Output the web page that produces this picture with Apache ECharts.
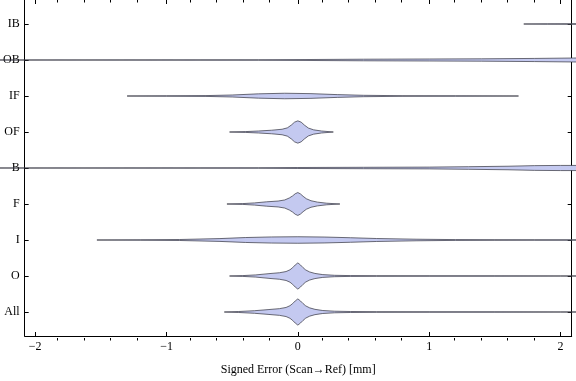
<!DOCTYPE html>
<html><head><meta charset="utf-8">
<script src="https://cdn.jsdelivr.net/npm/echarts@6/dist/echarts.min.js"></script>
<style>html,body{margin:0;padding:0;background:#fff}#c{width:576px;height:381px}</style>
</head><body><div id="c"></div>
<script>
// Categories, bottom to top
const categories = ['All', 'O', 'I', 'F', 'B', 'OF', 'IF', 'OB', 'IB'];
const xMajor = [-2, -1, 0, 1, 2];
const xMinor = [-1.8,-1.6,-1.4,-1.2,-0.8,-0.6,-0.4,-0.2,0.2,0.4,0.6,0.8,1.2,1.4,1.6,1.8];

// Estimated violin profiles: signed error (mm) and relative density
const allX = [-0.56,-0.45,-0.33,-0.22,-0.14,-0.09,-0.06,-0.04,-0.02,0,0.02,0.04,0.06,0.09,0.13,0.19,0.28,0.4,0.6,1.0,1.5,2.0,2.3];
const allD = [0,0.5,1.3,2.5,3.4,4.6,6.4,8.5,11.2,13.3,11.2,8.5,6.2,4.2,2.7,1.5,0.8,0.5,0.3,0.2,0.15,0.1,0.1];
const oX = [-0.52,-0.42,-0.32,-0.22,-0.14,-0.09,-0.06,-0.04,-0.02,0,0.02,0.04,0.06,0.09,0.13,0.19,0.28,0.4,0.6,1.0,1.5,2.0,2.3];
const oD = [0,0.4,1.1,2.4,3.3,4.5,6.3,8.4,11.2,13.3,11.2,8.4,6.1,4.1,2.6,1.4,0.7,0.4,0.3,0.2,0.15,0.1,0.1];
const iX = [-1.53,-1.2,-0.9,-0.6,-0.4,-0.2,0,0.2,0.4,0.6,0.9,1.2,1.5,1.8,2.3];
const iD = [0,0.2,0.5,1.4,2.5,3.1,3.3,3.0,2.3,1.5,0.8,0.4,0.3,0.2,0.2];
const fX = [-0.54,-0.42,-0.33,-0.24,-0.15,-0.1,-0.065,-0.04,-0.02,0,0.02,0.04,0.065,0.1,0.15,0.22,0.32];
const fD = [0,0.4,1.1,2.2,3.0,4.1,6.1,8.2,10.4,11.6,10.2,7.8,5.3,3.3,1.9,0.8,0];
const bX = [-2.3,-0.3,0.0,0.5,1.0,1.3,1.6,1.8,2.0,2.3];
const bD = [0,0.2,0.5,0.7,0.9,1.3,1.8,2.4,2.6,2.6];
const ofX = [-0.52,-0.4,-0.3,-0.2,-0.12,-0.08,-0.05,-0.025,0,0.025,0.05,0.08,0.12,0.18,0.27];
const ofD = [0,0.4,1.0,1.8,2.8,4.2,7.0,10.0,11.3,10.0,7.0,4.0,2.2,1.0,0];
const ifX = [-1.3,-1.0,-0.7,-0.5,-0.3,-0.1,0.1,0.3,0.5,0.8,1.2,1.68];
const ifD = [0,0.2,0.4,1.0,2.2,2.8,2.4,1.4,0.7,0.3,0.2,0];
const obX = [-2.3,-0.3,0.1,0.5,1.0,1.4,1.8,2.1,2.3];
const obD = [0,0.2,0.5,0.8,1.0,1.2,1.6,2.0,2.2];
const ibX = [1.72,1.9,2.3];
const ibD = [0,0.2,0.4];

const profiles = [[allX,allD],[oX,oD],[iX,iD],[fX,fD],[bX,bD],[ofX,ofD],[ifX,ifD],[obX,obD],[ibX,ibD]];
const DENS_SCALE = 1 / 36.5; // density units -> category units

const XMIN = -2.08, XMAX = 2.085, YMIN = 1/3, YMAX = 9 + 2/3;
const font = 'Liberation Serif';
const black = '#000';

function renderItem(params, api) {
  const idx = api.value(2);
  const [xs, ds] = profiles[idx];
  const yc = idx + 1;
  const top = [], bot = [];
  for (let j = 0; j < xs.length; j++) {
    top.push(api.coord([xs[j], yc + ds[j] * DENS_SCALE]));
    bot.push(api.coord([xs[j], yc - ds[j] * DENS_SCALE]));
  }
  const pts = top.concat(bot.reverse());
  return {
    type: 'polygon',
    shape: { points: pts },
    style: { fill: '#c4c9f0', stroke: 'rgba(55,55,65,0.8)', lineWidth: 0.9 }
  };
}

const catTicks = categories.map((c, i) => i + 1);
const grid = { left: 20.5, right: 4.3, top: 0, bottom: 40.5 };
const chart = echarts.init(document.getElementById('c'), null, { renderer: 'canvas' });
chart.setOption({
  animation: false,
  grid: [Object.assign({}, grid), Object.assign({}, grid)],
  xAxis: [
    { type: 'value', gridIndex: 0, position: 'bottom', min: XMIN, max: XMAX,
      axisLine: { show: true, onZero: false, lineStyle: { color: black, width: 1 } },
      splitLine: { show: false },
      axisTick: { show: true, inside: true, length: 4, customValues: xMajor, lineStyle: { color: black } },
      axisLabel: { customValues: xMajor, fontFamily: font, fontSize: 12, color: black, margin: 5,
        formatter: v => (v < 0 ? '\u2212' + Math.abs(v) : String(v)) },
      name: 'Signed Error (Scan\u2192Ref) [mm]', nameLocation: 'middle', nameGap: 28,
      nameTextStyle: { fontFamily: font, fontSize: 12, color: black } },
    { type: 'value', gridIndex: 0, position: 'top', min: XMIN, max: XMAX,
      axisLine: { show: false, onZero: false },
      splitLine: { show: false },
      axisTick: { show: true, inside: true, length: 4, customValues: xMajor, lineStyle: { color: black } },
      axisLabel: { show: false } },
    { type: 'value', gridIndex: 1, position: 'bottom', min: XMIN, max: XMAX,
      axisLine: { show: false, onZero: false }, splitLine: { show: false },
      axisTick: { show: true, inside: true, length: 2.5, customValues: xMinor, lineStyle: { color: black } },
      axisLabel: { show: false } },
    { type: 'value', gridIndex: 1, position: 'top', min: XMIN, max: XMAX,
      axisLine: { show: false, onZero: false }, splitLine: { show: false },
      axisTick: { show: true, inside: true, length: 2.5, customValues: xMinor, lineStyle: { color: black } },
      axisLabel: { show: false } }
  ],
  yAxis: [
    { type: 'value', gridIndex: 0, position: 'left', min: YMIN, max: YMAX,
      axisLine: { show: true, onZero: false, lineStyle: { color: black, width: 1 } },
      splitLine: { show: false },
      axisTick: { show: true, inside: true, length: 4, customValues: catTicks, lineStyle: { color: black } },
      axisLabel: { customValues: catTicks, fontFamily: font, fontSize: 12, color: black, margin: 5,
        formatter: v => categories[Math.round(v) - 1] || '' } },
    { type: 'value', gridIndex: 0, position: 'right', min: YMIN, max: YMAX,
      axisLine: { show: true, onZero: false, lineStyle: { color: black, width: 1 } },
      splitLine: { show: false },
      axisTick: { show: true, inside: true, length: 4, customValues: catTicks, lineStyle: { color: black } },
      axisLabel: { show: false } },
    { type: 'value', gridIndex: 1, min: YMIN, max: YMAX, show: false }
  ],
  series: [{
    type: 'custom',
    coordinateSystem: 'cartesian2d',
    xAxisIndex: 0, yAxisIndex: 0,
    clip: false,
    renderItem: renderItem,
    encode: { x: 0, y: 1 },
    data: categories.map((c, i) => [0, i + 1, i]),
    silent: true
  }]
});
</script>
</body></html>
